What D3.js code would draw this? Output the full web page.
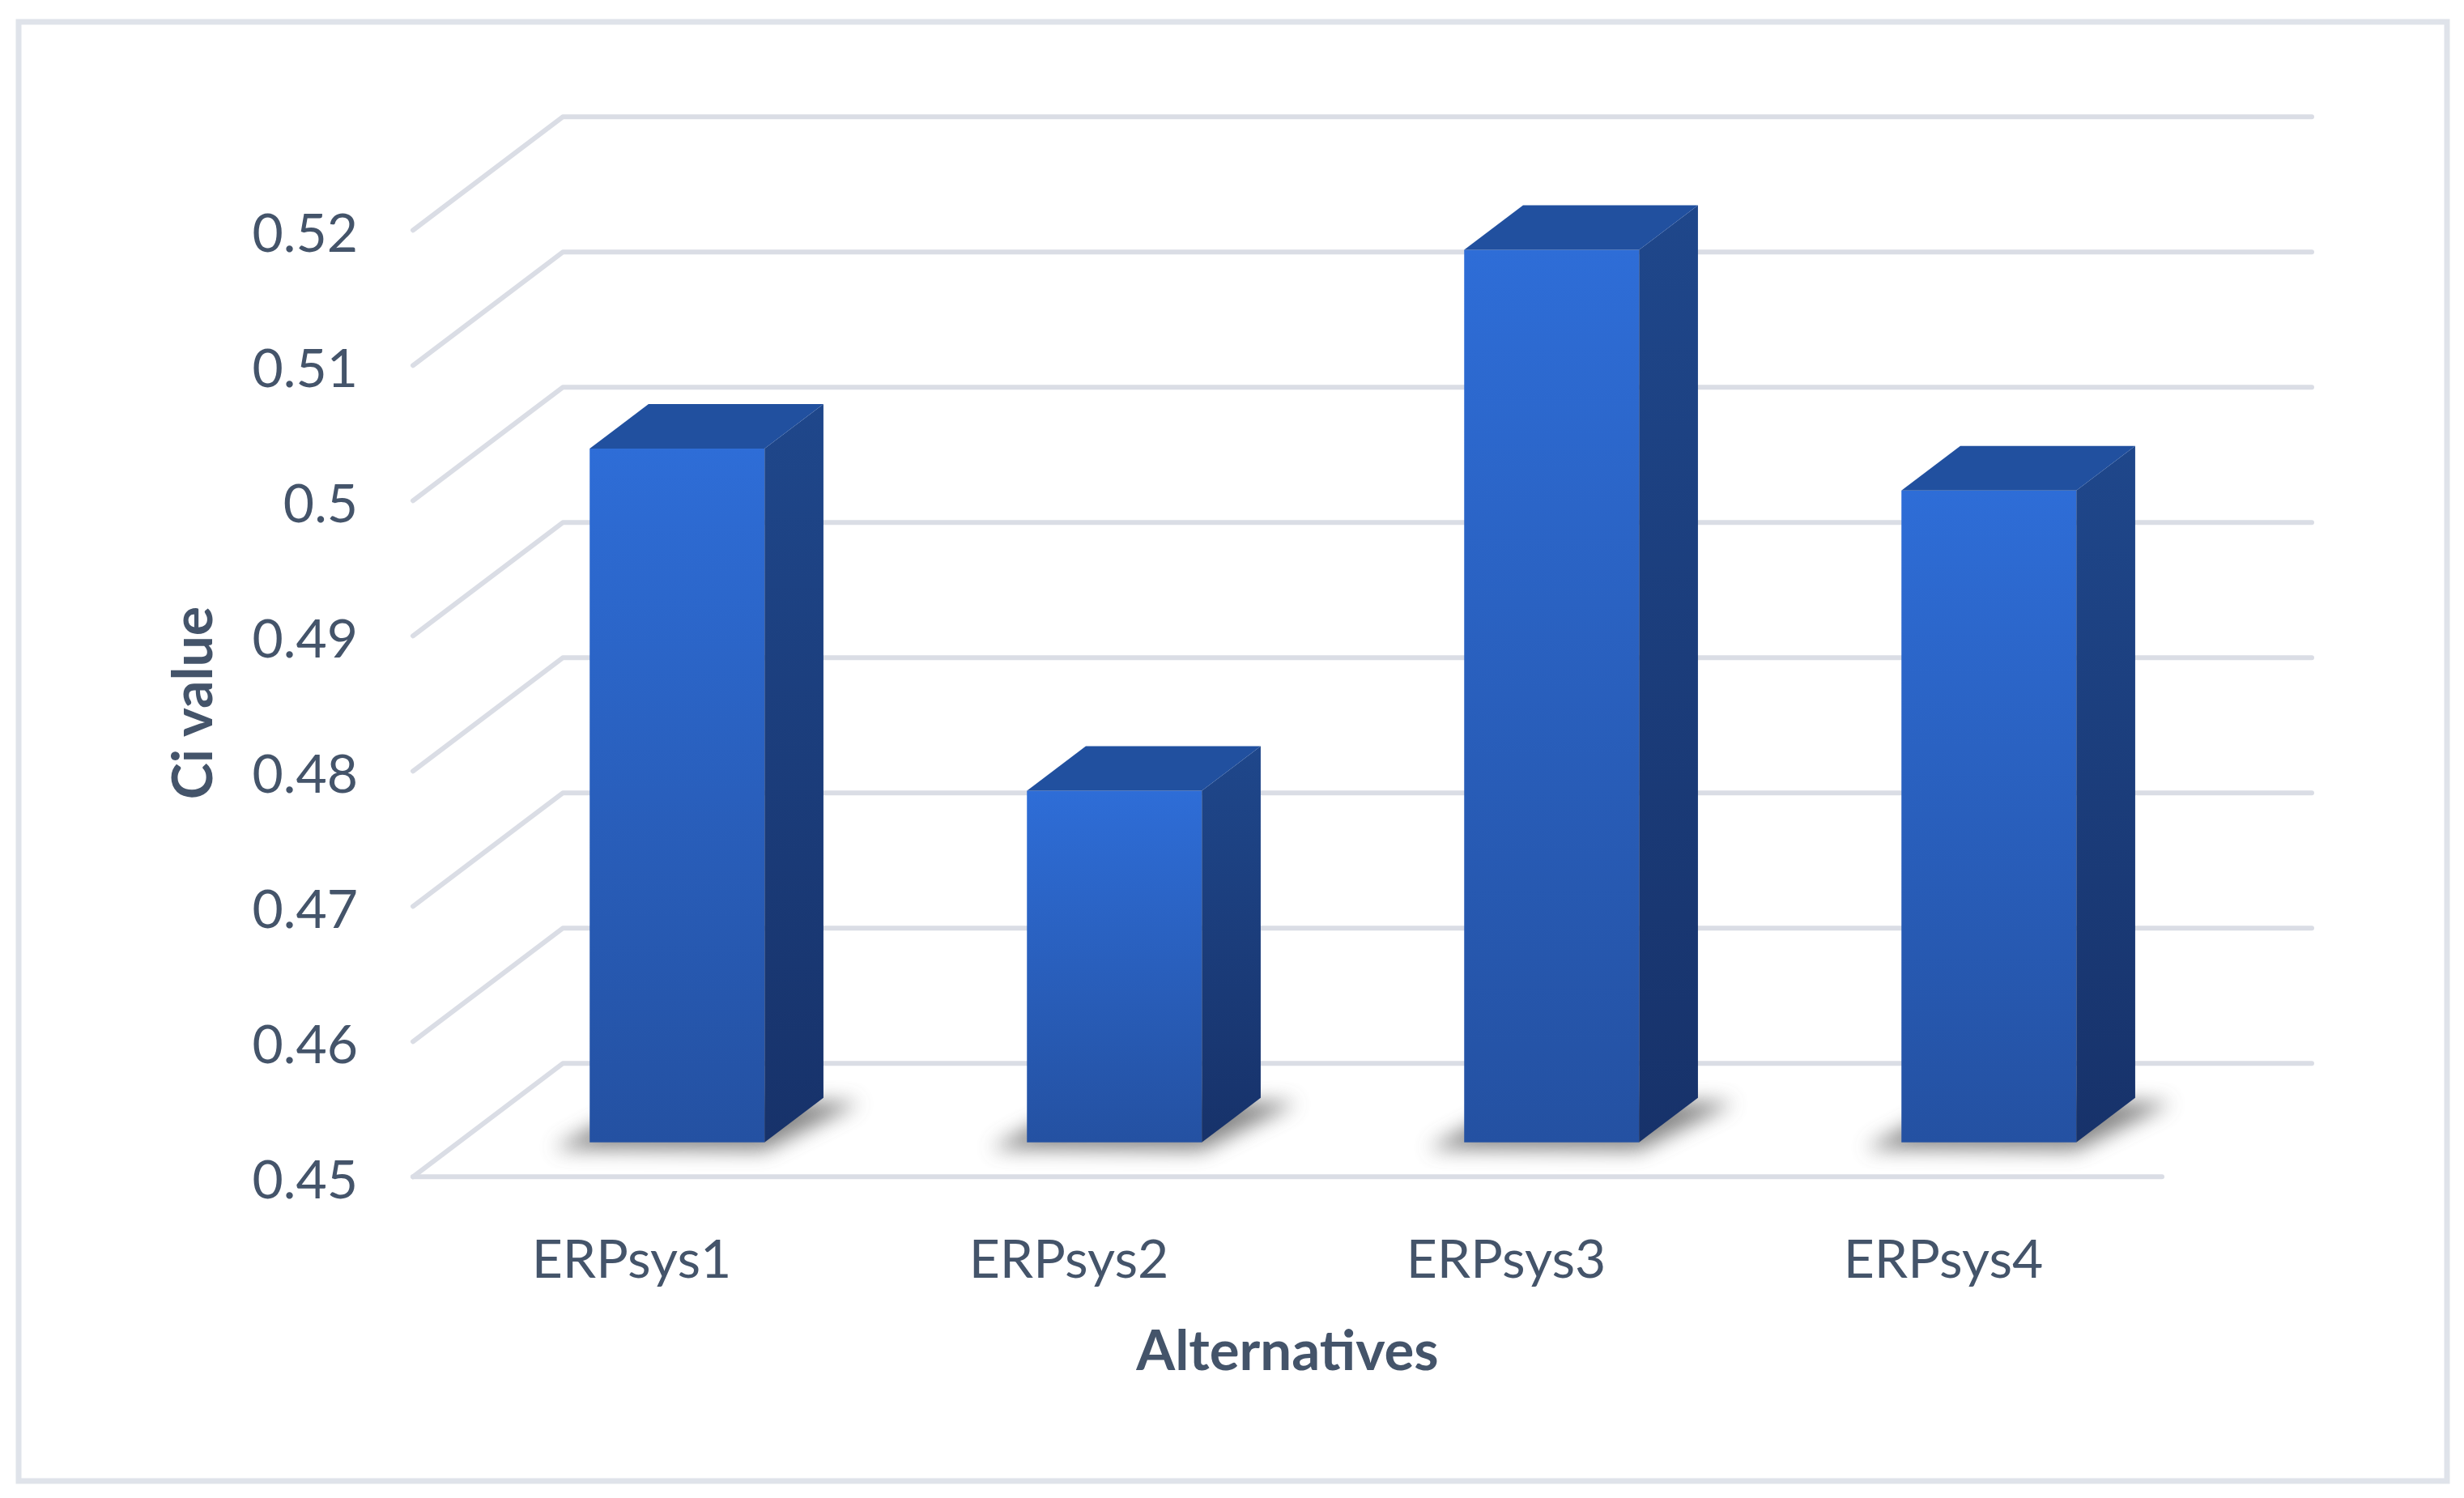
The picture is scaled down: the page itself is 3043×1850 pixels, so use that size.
<!DOCTYPE html>
<html><head><meta charset="utf-8">
<script src="https://cdn.jsdelivr.net/npm/d3@7"></script>
<style>html,body{margin:0;padding:0;background:#fff;overflow:hidden}</style>
</head><body><svg id="chart"></svg>
<script>
// ---- data ----
const categories = ["ERPsys1", "ERPsys2", "ERPsys3", "ERPsys4"];
const values = [0.5013, 0.4760, 0.5160, 0.4982];
const yTicks = [0.45, 0.46, 0.47, 0.48, 0.49, 0.50, 0.51, 0.52];
const yTickLabels = ["0.45", "0.46", "0.47", "0.48", "0.49", "0.5", "0.51", "0.52"];
const xTitle = "Alternatives";
const yTitle = "Ci value";

// ---- layout ----
const W = 3043, H = 1850;
const X0 = 510, PW = 2160;          // front plane of floor
const DX = 185, DY = 140;           // depth vector of the 3D box
const ZF = 0.304, ZB = 0.697;       // bar depth range (fraction of box depth)
const TEXT = "#44546a", GRID = "#dadde5";
const FONT = "Lato, 'Open Sans', sans-serif";

const svg = d3.select("#chart").attr("width", W).attr("height", H);
svg.append("rect").attr("width", W).attr("height", H).attr("fill", "#fff");
svg.append("rect").attr("x", 23).attr("y", 27).attr("width", 2999).attr("height", 1802)
  .attr("fill", "none").attr("stroke", "#dfe3ea").attr("stroke-width", 7);

const defs = svg.append("defs");
const gFront = defs.append("linearGradient").attr("id", "gFront").attr("x1", 0).attr("y1", 0).attr("x2", 0).attr("y2", 1);
gFront.append("stop").attr("offset", "0%").attr("stop-color", "#2e6dd7");
gFront.append("stop").attr("offset", "100%").attr("stop-color", "#2451a2");
const gSide = defs.append("linearGradient").attr("id", "gSide").attr("x1", 0).attr("y1", 0).attr("x2", 0).attr("y2", 1);
gSide.append("stop").attr("offset", "0%").attr("stop-color", "#1f478b");
gSide.append("stop").attr("offset", "100%").attr("stop-color", "#17326a");
const f = defs.append("filter").attr("id", "blur").attr("x", "-50%").attr("y", "-50%").attr("width", "200%").attr("height", "200%");
f.append("feGaussianBlur").attr("stdDeviation", 12);

const x = d3.scaleBand().domain(categories).range([X0, X0 + PW]).paddingInner(0.6).paddingOuter(0.3);
const y = d3.scaleLinear().domain([0.45, 0.52]).range([1453.3, 284.3]);
const P = (px, v, d) => [px + d * DX, y(v) - d * DY];
const line = pts => "M" + pts.map(p => p.join(",")).join("L");

// gridlines: left wall diagonals + back wall horizontals
const grid = svg.append("g").attr("fill", "none").attr("stroke", GRID).attr("stroke-width", 6)
  .attr("stroke-linejoin", "round").attr("stroke-linecap", "round");
grid.selectAll("path.g").data(yTicks).join("path").attr("class", "g")
  .attr("d", v => line([P(X0, v, 0), P(X0, v, 1), P(X0 + PW, v, 1)]));
grid.append("path").attr("d", line([P(X0, y.domain()[0], 0), P(X0 + PW, y.domain()[0], 0)]));

// bars
const base = y.domain()[0];
const bars = svg.append("g").selectAll("g").data(categories.map((c, i) => ({c, v: values[i]}))).join("g");
bars.append("path").attr("fill", "#606060").attr("opacity", 0.75).attr("filter", "url(#blur)")
  .attr("d", d => {
    const xl = x(d.c), xr = xl + x.bandwidth();
    const a = P(xl, base, ZF), b = P(xr, base, ZF), c = P(xr, base, ZB), e = P(xl, base, ZB);
    return line([[a[0] - 45, a[1] + 8], [b[0], b[1] + 10], [c[0] + 45, c[1] + 6], [e[0], e[1]]]) + "Z";
  });
bars.append("path").attr("fill", "url(#gFront)").attr("d", d => {
  const xl = x(d.c), xr = xl + x.bandwidth();
  return line([P(xl, d.v, ZF), P(xr, d.v, ZF), P(xr, base, ZF), P(xl, base, ZF)]) + "Z";
});
bars.append("path").attr("fill", "url(#gSide)").attr("d", d => {
  const xr = x(d.c) + x.bandwidth();
  return line([P(xr, d.v, ZF), P(xr, d.v, ZB), P(xr, base, ZB), P(xr, base, ZF)]) + "Z";
});
bars.append("path").attr("fill", "#21509f").attr("d", d => {
  const xl = x(d.c), xr = xl + x.bandwidth();
  return line([P(xl, d.v, ZF), P(xl, d.v, ZB), P(xr, d.v, ZB), P(xr, d.v, ZF)]) + "Z";
});

// y axis labels
const ya = svg.append("g").attr("transform", "translate(442,0)")
  .call(d3.axisLeft(y).tickValues(yTicks).tickFormat((d, i) => yTickLabels[i]).tickSize(0).tickPadding(0));
ya.select(".domain").remove();
ya.attr("font-family", FONT).attr("font-size", 66);
ya.selectAll("text").attr("fill", TEXT).attr("dy", "0.4em");

// x axis labels
const xa = svg.append("g").attr("transform", "translate(0,1578)")
  .call(d3.axisBottom(x).tickSize(0).tickPadding(0));
xa.select(".domain").remove();
xa.attr("font-family", FONT).attr("font-size", 66);
xa.selectAll("text").attr("fill", TEXT).attr("dy", "0");

// titles
svg.append("text").attr("x", X0 + PW / 2).attr("y", 1692).attr("text-anchor", "middle")
  .attr("font-family", FONT).attr("font-size", 69).attr("font-weight", "bold").attr("fill", TEXT).text(xTitle);
svg.append("text").attr("transform", "translate(262,868) rotate(-90)").attr("text-anchor", "middle")
  .attr("font-family", FONT).attr("font-size", 68).attr("font-weight", "bold").attr("fill", TEXT).text(yTitle);
</script></body></html>
